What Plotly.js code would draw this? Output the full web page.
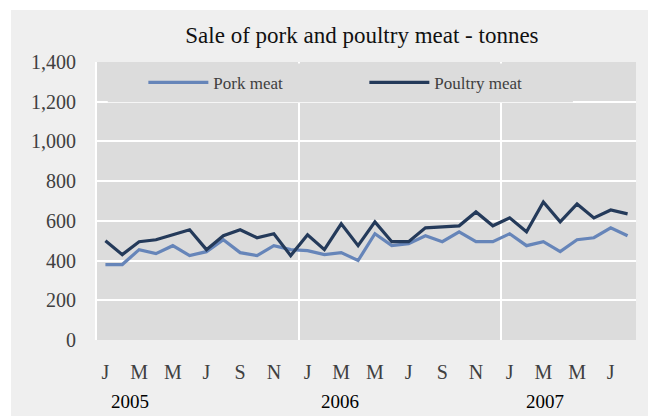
<!DOCTYPE html>
<html>
<head>
<meta charset="utf-8">
<script src="https://cdn.plot.ly/plotly-3.0.1.min.js"></script>
<style>html,body{margin:0;padding:0;background:#fff;}#chart{width:651px;height:416px;}</style>
</head>
<body>
<div id="chart"></div>
<script>
// Months Jan 2005 .. Aug 2007
const months = ['Jan 05','Feb 05','Mar 05','Apr 05','May 05','Jun 05','Jul 05','Aug 05','Sep 05','Oct 05','Nov 05','Dec 05',
                'Jan 06','Feb 06','Mar 06','Apr 06','May 06','Jun 06','Jul 06','Aug 06','Sep 06','Oct 06','Nov 06','Dec 06',
                'Jan 07','Feb 07','Mar 07','Apr 07','May 07','Jun 07','Jul 07','Aug 07'];
const monthLetters = ['J','F','M','A','M','J','J','A','S','O','N','D'];
const years = ['2005','2006','2007'];
const pork = [380,380,455,435,475,425,445,505,440,425,475,455,
              450,430,440,400,535,475,485,525,495,545,495,495,
              535,475,495,445,505,515,565,525];
const poultry = [500,430,495,505,530,555,455,525,555,515,535,425,
                 530,455,585,475,595,495,495,565,570,575,645,575,
                 615,545,695,595,685,615,655,635];
const yTicks = [0,200,400,600,800,1000,1200,1400];

const idx = months.map((m,i)=>i);
const tickIdx = idx.filter(i=>i%2===0);
const tickText = tickIdx.map(i=>monthLetters[i%12]);
const yearBounds = idx.filter(i=>i>0 && i%12===0).map(i=>i-0.5);

const font = 'Liberation Serif, Times New Roman, serif';
const traces = [
  {x: idx, y: pork, name: 'Pork meat', type: 'scatter', mode: 'lines',
   line: {color: '#6685b9', width: 3.2}},
  {x: idx, y: poultry, name: 'Poultry meat', type: 'scatter', mode: 'lines',
   line: {color: '#243a5a', width: 3.2}}
];

const yearPos = [1.46, 13.95, 26.1];
const annotations = years.map((yr,i)=>({
  text: yr, x: yearPos[i], xref: 'x', y: -0.266, yref: 'paper',
  showarrow: false, xanchor: 'center', yanchor: 'bottom',
  font: {family: font, size: 19, color: '#000'}
}));

const layout = {
  width: 651, height: 416,
  margin: {l: 97, r: 15, t: 62, b: 76, pad: 0},
  paper_bgcolor: '#ffffff',
  plot_bgcolor: 'rgba(0,0,0,0)',
  font: {family: font, size: 20, color: '#404040'},
  title: {text: 'Sale of pork and poultry meat - tonnes', x: 0.556, xanchor: 'center',
          y: 0.915, yanchor: 'middle', font: {family: font, size: 23, color: '#111'}},
  showlegend: true,
  legend: {orientation: 'h', x: 0.086, xanchor: 'left', y: 0.99, yanchor: 'top',
           bgcolor: 'rgba(0,0,0,0)', font: {family: font, size: 17, color: '#404040'},
           itemwidth: 60, entrywidth: 146, tracegroupgap: 0, traceorder: 'normal'},
  xaxis: {range: [-0.5, months.length - 0.5], tickmode: 'array', tickvals: tickIdx, ticktext: tickText,
          showgrid: false, zeroline: false, showline: false, ticks: '', ticklabelstandoff: 18,
          tickfont: {family: font, size: 20, color: '#404040'},
          minor: {tickmode: 'array', tickvals: yearBounds, showgrid: true, gridcolor: '#ffffff', gridwidth: 2, ticks: ''}},
  yaxis: {range: [0, 1400], tickmode: 'array', tickvals: yTicks, tickformat: ',d',
          showgrid: true, gridcolor: '#ffffff', gridwidth: 2, zeroline: false,
          showline: true, linecolor: '#ffffff', linewidth: 2, ticks: '', ticklabelstandoff: 15,
          tickfont: {family: font, size: 20, color: '#404040'}},
  shapes: [
    {type: 'rect', xref: 'paper', yref: 'paper', x0: -0.1596, x1: 1.0223, y0: -0.4, y1: 1.187,
     fillcolor: '#efefef', line: {width: 0}, layer: 'below'},
    {type: 'rect', xref: 'x domain', yref: 'y domain', x0: 0, x1: 1, y0: 0, y1: 1,
     fillcolor: '#dcdcdc', line: {width: 0}, layer: 'below'},
    {type: 'rect', xref: 'x domain', yref: 'y domain', x0: 0.02, x1: 0.883, y0: 0.855, y1: 0.995,
     fillcolor: '#dcdcdc', line: {width: 0}, layer: 'above'}
  ],
  annotations: annotations
};

Plotly.newPlot('chart', traces, layout, {displayModeBar: false, staticPlot: true});
</script>
</body>
</html>
